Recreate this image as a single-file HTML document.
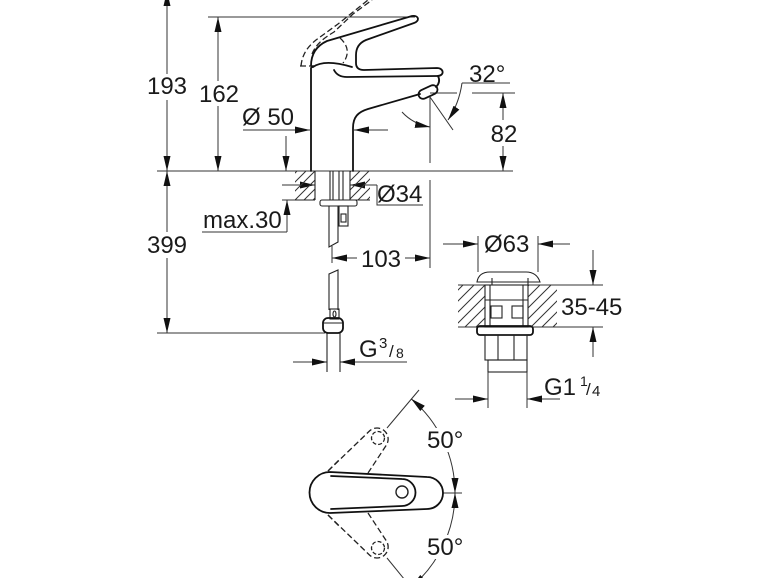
<!DOCTYPE html>
<html><head><meta charset="utf-8"><style>
html,body{margin:0;padding:0;background:#fff;}
svg{display:block;}
text{font-family:"Liberation Sans",Arial,sans-serif;font-size:24px;fill:#1a1a1a;}
.d{stroke:#333;stroke-width:1;fill:none;}
.o{stroke:#111;stroke-width:1.8;fill:none;stroke-linejoin:round;stroke-linecap:round;}
.t{stroke:#222;stroke-width:1.1;fill:none;}
.ds{stroke:#222;stroke-width:1.3;fill:none;stroke-dasharray:6 3;}
</style></head><body>
<svg width="770" height="578" viewBox="0 0 770 578" xmlns="http://www.w3.org/2000/svg">
<defs>
<pattern id="h" width="9" height="9" patternUnits="userSpaceOnUse"><path d="M-1,1 L1,-1 M0,9 L9,0 M8,10 L10,8" stroke="#333" stroke-width="1"/></pattern>
<pattern id="h2" width="11" height="11" patternUnits="userSpaceOnUse"><path d="M-1,1 L1,-1 M0,11 L11,0 M10,12 L12,10" stroke="#333" stroke-width="1"/></pattern>
<marker id="a" viewBox="0 0 15 7" refX="15" refY="3.5" markerWidth="15" markerHeight="7" markerUnits="userSpaceOnUse" orient="auto"><path d="M0,0 L15,3.5 L0,7z" fill="#111"/></marker>
<marker id="b" viewBox="0 0 15 7" refX="15" refY="3.5" markerWidth="15" markerHeight="7" markerUnits="userSpaceOnUse" orient="auto-start-reverse"><path d="M0,0 L15,3.5 L0,7z" fill="#111"/></marker>
</defs>

<!-- ===== Left dimensions ===== -->
<line class="d" x1="167" y1="74" x2="167" y2="-9" marker-end="url(#a)"/>
<line class="d" x1="167" y1="100" x2="167" y2="171" marker-end="url(#a)"/>
<line class="d" x1="167" y1="232" x2="167" y2="171" marker-end="url(#a)"/>
<line class="d" x1="167" y1="258" x2="167" y2="333" marker-end="url(#a)"/>
<line class="d" x1="157" y1="171" x2="513" y2="171"/>
<line class="d" x1="157" y1="333" x2="325" y2="333"/>
<line class="d" x1="208" y1="17" x2="415" y2="17"/>
<line class="d" x1="218" y1="81" x2="218" y2="17" marker-end="url(#a)"/>
<line class="d" x1="218" y1="106" x2="218" y2="171" marker-end="url(#a)"/>
<line class="d" x1="243" y1="130" x2="310" y2="130" marker-end="url(#a)"/>
<line class="d" x1="388" y1="130" x2="354" y2="130" marker-end="url(#a)"/>
<line class="d" x1="286" y1="136" x2="286" y2="171" marker-end="url(#a)"/>
<line class="d" x1="287" y1="232" x2="287" y2="200" marker-end="url(#a)"/>
<line class="d" x1="202" y1="232" x2="287" y2="232"/>
<line class="d" x1="282" y1="200" x2="296" y2="200"/>
<line class="d" x1="282" y1="185" x2="315" y2="185" marker-end="url(#a)"/>
<line class="d" x1="377" y1="185" x2="350" y2="185" marker-end="url(#a)"/>
<polyline class="d" points="377,185 377,205 423,205"/>
<line class="d" x1="357" y1="258" x2="332" y2="258" marker-end="url(#a)"/>
<line class="d" x1="405" y1="258" x2="430" y2="258" marker-end="url(#a)"/>
<line class="d" x1="332" y1="246" x2="332" y2="263"/>
<line class="d" x1="430" y1="97" x2="430" y2="163"/>
<line class="d" x1="430" y1="180" x2="430" y2="268"/>
<line class="d" x1="293" y1="362" x2="327" y2="362" marker-end="url(#a)"/>
<line class="d" x1="407" y1="362" x2="340" y2="362" marker-end="url(#a)"/>
<line class="t" x1="327" y1="333" x2="327" y2="372"/>
<line class="t" x1="340" y1="333" x2="340" y2="372"/>

<!-- ===== Right-side (spout) dims ===== -->
<line class="d" x1="503" y1="120" x2="503" y2="93" marker-end="url(#a)"/>
<line class="d" x1="503" y1="146" x2="503" y2="171" marker-end="url(#a)"/>
<line class="d" x1="430" y1="93" x2="457" y2="93"/>
<line class="d" x1="472" y1="93" x2="515" y2="93"/>
<line class="d" x1="510" y1="83" x2="462" y2="83"/>
<path class="d" d="M462,83 Q459,104 448,120" marker-end="url(#a)"/>
<path class="d" d="M402,112 Q413,124 430,127" marker-end="url(#a)"/>
<line class="d" x1="430" y1="97" x2="453" y2="130"/>

<!-- ===== Faucet body ===== -->
<path class="o" d="M311,171 L311,68 L313,66"/>
<path class="o" d="M313,67 C320,62 332,61 352,67"/>
<path class="o" d="M311,66 C311,55 316,46 327,41 L412,16 C419,15 420,21 414,23 L366,40 C359,43 356,48 356,55 L356,63 C356,68 359,70 364,70 L437,68 C444,68 445,76 437,76 L347,77 C340,77 336,74 334,70"/>
<path class="o" d="M353,171 L353,128 C353,117 358,112 368,109 L420,94"/>
<path class="o" d="M438,76 C440,80 439,84 436,87"/>
<rect class="o" x="-10" y="-4.5" width="20" height="9" rx="4.5" transform="translate(428,92) rotate(-25)"/>
<!-- ghost lever dashed -->
<path class="ds" d="M301,66 C302,56 306,48 316,40 L338,24 L368,0"/>
<path class="ds" d="M312,54 C316,44 324,38 334,32 L353,14 L372,0"/>
<path class="ds" d="M340,38 C348,45 350,54 343,63"/>
<path class="ds" d="M300,66 L311,66"/>

<!-- ===== Below deck ===== -->
<rect x="295" y="171" width="20" height="29" fill="url(#h)"/>
<rect x="350" y="171" width="20" height="29" fill="url(#h)"/>
<line class="t" x1="315" y1="171" x2="315" y2="200"/>
<line class="t" x1="350" y1="171" x2="350" y2="200"/>
<line class="t" x1="330" y1="171" x2="330" y2="200"/>
<line class="t" x1="333" y1="171" x2="333" y2="200"/>
<line class="t" x1="339" y1="171" x2="339" y2="200"/>
<line class="t" x1="343" y1="171" x2="343" y2="200"/>
<line class="t" x1="295" y1="200" x2="315" y2="200"/>
<line class="t" x1="350" y1="200" x2="370" y2="200"/>
<rect class="t" x="320" y="200" width="37" height="6" rx="2"/>
<path class="t" d="M329,206 L329,247 L338,242 L338,206"/>
<rect class="t" x="339" y="206" width="9" height="20"/>
<rect class="t" x="341" y="214" width="5" height="8"/>
<path class="t" d="M329,310 L329,274 L338,270 L338,310"/>
<rect class="t" x="330" y="309" width="9" height="10"/>
<ellipse class="t" cx="334.5" cy="314" rx="1.5" ry="3"/>
<rect class="o" x="323" y="318" width="20" height="15" rx="5"/>
<line class="t" x1="323" y1="323" x2="343" y2="323"/>

<!-- ===== Drain ===== -->
<line class="d" x1="443" y1="244" x2="478" y2="244" marker-end="url(#a)"/>
<line class="d" x1="570" y1="244" x2="538" y2="244" marker-end="url(#a)"/>
<line class="d" x1="478" y1="236" x2="478" y2="272"/>
<line class="d" x1="538" y1="236" x2="538" y2="272"/>
<line class="d" x1="593" y1="250" x2="593" y2="285" marker-end="url(#a)"/>
<line class="d" x1="593" y1="357" x2="593" y2="327" marker-end="url(#a)"/>
<rect x="458" y="285" width="27" height="42" fill="url(#h2)"/>
<rect x="528" y="285" width="29" height="42" fill="url(#h2)"/>
<line class="d" x1="458" y1="285" x2="603" y2="285"/>
<line class="d" x1="458" y1="327" x2="603" y2="327"/>
<path class="t" d="M477,282 C478,276 482,272 490,272 L526,272 C534,272 538,276 540,282 Z" fill="#fff"/>
<line class="t" x1="492" y1="278" x2="492" y2="285"/>
<line class="t" x1="528" y1="278" x2="528" y2="285"/>
<rect class="t" x="485" y="285" width="43" height="42" fill="#fff"/>
<line class="t" x1="490" y1="285" x2="490" y2="327"/>
<line class="t" x1="523" y1="285" x2="523" y2="327"/>
<line class="t" x1="485" y1="300" x2="528" y2="300"/>
<rect class="t" x="491" y="306" width="11" height="12"/>
<rect class="t" x="512" y="306" width="11" height="12"/>
<rect class="o" x="477" y="326" width="56" height="9" rx="3" fill="#fff"/>
<rect class="t" x="485" y="335" width="42" height="25"/>
<line class="t" x1="498" y1="335" x2="498" y2="360"/>
<line class="t" x1="514" y1="335" x2="514" y2="360"/>
<rect class="t" x="488" y="360" width="39" height="12"/>
<line class="d" x1="455" y1="399" x2="488" y2="399" marker-end="url(#a)"/>
<line class="d" x1="560" y1="399" x2="527" y2="399" marker-end="url(#a)"/>
<line class="d" x1="488" y1="372" x2="488" y2="408"/>
<line class="d" x1="527" y1="372" x2="527" y2="408"/>

<!-- ===== Top view ===== -->
<line class="d" x1="387" y1="428" x2="419" y2="390"/>
<line class="d" x1="387" y1="558" x2="409" y2="585"/>
<line class="d" x1="443" y1="493" x2="462" y2="493"/>
<path class="d" d="M411.1,398.8 A123,123 0 0 1 455,493" marker-start="url(#b)" marker-end="url(#a)"/>
<path class="d" d="M411.1,587.2 A123,123 0 0 0 455,493" marker-start="url(#b)" marker-end="url(#a)"/>
<rect x="424" y="428" width="46" height="24" fill="#fff"/>
<rect x="424" y="535" width="46" height="24" fill="#fff"/>
<path class="ds" d="M328,471 L369.6,430.9 A11.1,11.1 0 0 1 386.4,445.1 L368,473"/>
<circle class="ds" cx="378" cy="438" r="6.5" style="stroke-dasharray:4 2"/>
<path class="ds" d="M328,515 L369.6,555.1 A11.1,11.1 0 0 0 386.4,540.9 L368,513"/>
<circle class="ds" cx="378" cy="548" r="6.5" style="stroke-dasharray:4 2"/>
<path class="o" d="M330,472 L427,477 A16,16 0 0 1 427,509 L330,513 A20.5,20.5 0 0 1 330,472 Z" fill="#fff"/>
<path class="o" d="M331,476 L402,479 A13.5,13.5 0 0 1 402,506 L331,509"/>
<circle class="t" cx="402" cy="492" r="6" style="stroke-width:1.4"/>
<path class="ds" d="M328,471 L340,459"/>
<path class="ds" d="M328,515 L340,527"/>

<!-- ===== Texts ===== -->
<rect x="150" y="75" width="36" height="24" fill="#fff"/>
<rect x="150" y="234" width="36" height="24" fill="#fff"/>
<rect x="200" y="83" width="38" height="23" fill="#fff"/>
<text x="167" y="94" text-anchor="middle">193</text>
<text x="167" y="253" text-anchor="middle">399</text>
<text x="219" y="102" text-anchor="middle">162</text>
<text x="242" y="125">Ø 50</text>
<text x="203" y="228">max.30</text>
<text x="377" y="202">Ø34</text>
<text x="381" y="267" text-anchor="middle">103</text>
<text x="359" y="357">G</text>
<text x="379" y="348" style="font-size:15px">3</text>
<text x="389" y="357" style="font-size:17px">/</text>
<text x="396" y="358" style="font-size:14px">8</text>
<text x="469" y="82">32°</text>
<text x="504" y="142" text-anchor="middle">82</text>
<text x="484" y="252">Ø63</text>
<text x="561" y="315">35-45</text>
<text x="544" y="395">G1</text>
<text x="580" y="386" style="font-size:14px">1</text>
<text x="586" y="395" style="font-size:17px">/</text>
<text x="592" y="396" style="font-size:15px">4</text>
<text x="427" y="448">50°</text>
<text x="427" y="555">50°</text>
</svg>
</body></html>
